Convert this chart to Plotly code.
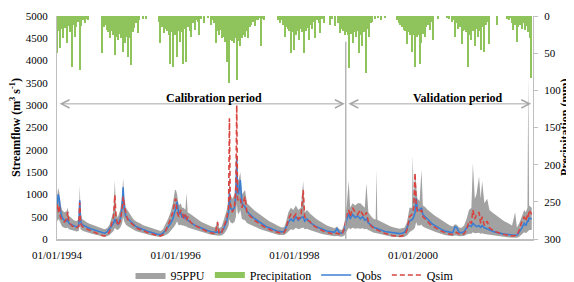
import plotly.graph_objects as go
import pandas as pd

# ---------------- streamflow data (m3/s) ----------------
dates = [
    # 1994
    "1994-01-01","1994-01-08","1994-01-15","1994-01-22","1994-02-01","1994-02-15","1994-03-01","1994-03-08",
    "1994-03-15","1994-04-01","1994-04-15","1994-05-01","1994-05-15","1994-05-21","1994-05-26","1994-06-05",
    "1994-06-20","1994-07-05","1994-07-20","1994-08-05","1994-08-20","1994-09-05","1994-09-20","1994-10-05",
    "1994-10-20","1994-11-05","1994-11-20","1994-12-05","1994-12-15","1994-12-23","1994-12-30",
    # 1995
    "1995-01-10","1995-01-25","1995-02-05","1995-02-12","1995-02-18","1995-03-01","1995-03-15","1995-04-01",
    "1995-04-15","1995-05-01","1995-05-15","1995-06-01","1995-06-15","1995-07-01","1995-07-15","1995-08-01",
    "1995-08-15","1995-09-01","1995-09-15","1995-10-01","1995-10-15","1995-11-01","1995-11-15","1995-12-01",
    "1995-12-15","1995-12-28",
    # 1996
    "1996-01-03","1996-01-10","1996-01-20","1996-02-01","1996-02-10","1996-02-20","1996-03-01","1996-03-08",
    "1996-03-15","1996-04-01","1996-04-15","1996-05-01","1996-05-15","1996-06-01","1996-06-15","1996-07-01",
    "1996-07-15","1996-08-01","1996-08-15","1996-09-01","1996-09-15","1996-09-25","1996-10-10","1996-10-25",
    "1996-11-10","1996-11-22","1996-11-27","1996-12-02","1996-12-15","1996-12-28",
    # 1997
    "1997-01-06","1997-01-11","1997-01-16","1997-01-22","1997-02-02","1997-02-12","1997-03-03","1997-03-15",
    "1997-03-30","1997-04-15","1997-04-30","1997-05-15","1997-05-30","1997-06-15","1997-06-30","1997-07-15",
    "1997-07-30","1997-08-15","1997-08-30","1997-09-15","1997-09-30","1997-10-15","1997-10-30","1997-11-10",
    "1997-11-25","1997-12-10","1997-12-25",
    # 1998
    "1998-01-10","1998-01-25","1998-02-10","1998-02-24","1998-03-05","1998-03-20","1998-04-05","1998-04-20",
    "1998-05-05","1998-05-20","1998-06-05","1998-06-20","1998-07-05","1998-07-20","1998-08-05","1998-08-20",
    "1998-09-05","1998-09-20","1998-10-05","1998-10-20","1998-11-05","1998-11-20","1998-12-01","1998-12-10",
    "1998-12-25",
    # 1999
    "1999-01-10","1999-01-25","1999-02-10","1999-02-25","1999-03-10","1999-03-20","1999-04-01","1999-04-20",
    "1999-05-05","1999-05-16","1999-05-21","1999-05-26","1999-06-10","1999-06-25","1999-07-10","1999-07-25",
    "1999-08-10","1999-08-25","1999-09-10","1999-09-25","1999-10-10","1999-10-25","1999-11-10","1999-11-25",
    "1999-12-10","1999-12-25","1999-12-30",
    # 2000
    "2000-01-05","2000-01-13","2000-01-20","2000-01-28","2000-02-10","2000-02-22","2000-03-01","2000-03-15",
    "2000-04-01","2000-04-15","2000-05-01","2000-05-15","2000-06-01","2000-06-15","2000-07-01","2000-07-15",
    "2000-08-01","2000-08-15","2000-09-01","2000-09-15","2000-09-25","2000-10-10","2000-10-25","2000-11-10",
    "2000-11-25","2000-12-10","2000-12-25",
    # 2001
    "2001-01-03","2001-01-15","2001-01-25","2001-02-10","2001-02-20","2001-03-01","2001-03-15","2001-04-01",
    "2001-04-15","2001-05-01","2001-05-15","2001-06-01","2001-06-15","2001-07-01","2001-07-15","2001-08-01",
    "2001-08-15","2001-09-01","2001-09-20","2001-10-01","2001-10-15","2001-11-01","2001-11-15","2001-11-25",
    "2001-12-05","2001-12-10","2001-12-15","2001-12-31",
]

qobs = [
    650,1000,900,650,480,420,400,450,350,320,290,270,300,870,400,320,290,260,240,220,200,180,160,140,130,160,220,300,350,450,380,
    330,450,700,1160,700,500,450,380,320,280,260,230,210,190,170,150,130,110,100,100,130,200,260,350,450,600,
    700,840,550,600,480,550,450,500,420,380,340,300,280,250,230,210,190,170,160,150,160,140,160,250,400,600,1030,700,650,700,
    1000,1815,1100,1000,1320,800,720,620,560,500,460,420,380,340,300,270,250,220,200,180,170,160,170,250,380,450,400,
    500,420,480,500,400,450,380,330,300,270,240,220,200,180,170,160,150,230,140,130,200,450,580,450,550,
    480,520,450,500,420,450,360,300,260,245,240,230,210,190,170,160,150,140,130,120,120,130,150,250,400,430,450,
    500,600,920,650,650,700,550,500,420,380,330,300,260,230,200,180,160,150,140,270,260,150,140,160,250,300,280,
    350,300,280,300,260,300,250,230,200,180,160,140,130,120,110,100,90,80,85,90,150,250,350,300,400,400,470,450,
]

qsim = [
    780,600,750,500,420,380,450,610,380,300,270,250,280,820,350,280,250,220,190,170,150,120,100,80,70,90,160,350,500,985,500,
    300,400,650,950,800,550,420,360,300,260,230,200,180,160,140,120,100,80,70,70,100,180,300,450,600,875,
    900,600,500,650,600,450,550,420,500,380,330,300,260,230,200,180,160,140,130,120,380,110,150,300,450,700,2705,800,600,700,
    1200,3000,900,850,900,700,950,580,520,460,420,380,340,300,270,240,210,190,170,150,140,130,150,220,450,550,480,
    560,450,500,1100,500,420,400,320,280,250,220,190,170,150,130,120,110,130,110,100,250,550,650,500,700,
    600,550,650,550,500,600,380,280,230,215,210,200,170,150,130,110,90,80,70,60,60,70,90,200,500,550,600,
    700,1480,800,600,600,650,500,450,380,330,290,250,220,190,160,140,120,110,100,120,150,110,100,120,200,400,350,
    650,450,550,600,350,500,300,400,250,200,170,150,130,110,100,90,80,70,75,80,200,400,500,400,550,500,650,550,
]

ppu_low = [
    380,450,420,350,280,250,240,260,220,200,180,170,180,350,220,190,170,150,140,120,100,90,70,60,50,60,90,150,180,250,220,
    200,250,350,500,400,320,280,240,200,180,160,140,120,110,100,85,70,60,50,50,60,90,120,180,230,300,
    350,400,300,320,300,300,280,280,260,240,220,200,180,160,140,130,110,100,90,80,85,75,80,120,200,300,450,380,350,380,
    500,800,600,550,650,450,420,360,330,300,280,250,230,210,190,170,150,130,110,100,90,85,90,120,180,220,200,
    250,220,240,260,220,230,200,180,160,140,120,110,100,90,80,70,60,70,60,50,80,200,250,220,250,
    230,240,230,240,220,230,200,160,140,135,130,120,110,100,80,70,60,50,45,40,40,40,50,80,150,180,200,
    220,260,380,300,300,320,280,250,220,200,180,160,140,120,100,90,80,70,60,80,80,60,60,70,100,120,120,
    150,130,130,140,120,130,110,100,90,80,70,60,55,50,45,40,35,30,30,30,50,100,150,130,180,180,200,200,
]

ppu_high = [
    900,1150,1050,800,650,600,620,700,520,460,420,400,450,1200,600,450,400,370,340,320,300,280,260,240,220,240,320,500,650,1320,600,
    480,650,950,1370,950,700,620,520,450,400,380,340,310,290,270,250,230,210,190,180,220,330,450,600,800,1100,
    1100,1000,750,800,700,700,650,1030,600,560,520,480,440,400,370,340,310,290,270,260,420,240,280,450,650,900,1500,1000,900,1000,
    1400,2000,1400,1300,1500,1000,1100,800,740,680,640,600,560,520,470,430,400,370,340,300,280,260,270,380,600,700,650,
    750,650,700,1300,600,650,580,520,480,440,400,360,330,300,280,260,240,280,220,200,350,800,1300,700,800,
    750,800,800,750,700,1250,600,500,450,440,1550,430,400,370,340,310,290,270,250,240,230,240,260,380,700,700,1880,
    900,1500,1200,900,850,1550,750,720,650,600,560,520,480,440,400,370,330,300,280,330,320,260,250,300,450,650,700,
    1700,900,1000,1400,900,1300,800,900,650,600,560,520,480,440,400,370,340,300,600,260,350,500,650,600,700,3700,750,700,
]

# ---------------- precipitation (mm), 10-day bars per wet period ----------------
rain_a_start = "1994-01-01"
rain_a = [50,20,43,18,30,16,36,14,22,68,12,28,15,8,73,14,6,10,4,5]
rain_b_start = "1994-10-05"
rain_b = [50,15,12,19,22,30,20,25,52,28,32,24,30,48,36,28,55,30,66,22,16,10,23,6,0,4,0,4]
rain_c_start = "1995-09-20"
rain_c = [8,36,15,23,18,20,25,64,22,68,25,55,20,35,22,64,18,62,15,20,
          28,10,19,6,8,26,4,0,10,0,3,0,12,5,10,36,20,25,19,30,
          28,35,62,90,32,34,36,30,86,33,41,30,25,28,20,30,15,12,8,14,
          5,6,3,41,4,5]
rain_d_start = "1997-09-23"
rain_d = [5,10,6,12,28,15,18,20,50,22,46,25,20,32,18,22,50,20,16,32,12,18,8,30,6,10,23,4,10]
rain_e_start = "1998-08-08"
rain_e = [12,4,0,14,0,10,23,18,20,25,22,26,70,24,36,22,28,20,50,26,41,22,77,18,28,10,8]
rain_f_start = "1999-05-12"
rain_f = [4,0,3,0,5,0,2]
rain_g_start = "1999-09-25"
rain_g = [6,10,12,15,19,20,37,22,25,48,26,68,28,25,64,36,24,28,15,12,19,8,32,0,0,4]
rain_h_start = "2000-07-28"
rain_h = [3,4,0,8,5,28,10,18,15,37,20,19,22,68,25,32,20,41,18,28,20,46,15,48,12,8,37]
rain_i_start = "2001-08-01"
rain_i = [4,6,3,10,19,12,35,15,12,17,10,19,14,22,30,83]
rain_extra_dates = ["2001-05-31"]
rain_extra = [12]

xtick_vals = ["1994-01-01", "1996-01-01", "1998-01-01", "2000-01-01"]
xtick_text = ["01/01/1994", "01/01/1996", "01/01/1998", "01/01/2000"]

# ---------------- build ----------------
rain_x, rain_y = [], []
for start, vals in [(rain_a_start, rain_a), (rain_b_start, rain_b), (rain_c_start, rain_c),
                    (rain_d_start, rain_d), (rain_e_start, rain_e), (rain_f_start, rain_f),
                    (rain_g_start, rain_g), (rain_h_start, rain_h), (rain_i_start, rain_i)]:
    rain_x += list(pd.date_range(start, periods=len(vals), freq="10D"))
    rain_y += vals
rain_x += list(pd.to_datetime(rain_extra_dates))
rain_y += rain_extra

SERIF = "Liberation Serif"
GRAY_AX = "#bfbfbf"
PPU_COL = "#a2a2a2"
RAIN_COL = "#8fc45c"
OBS_COL = "#3b7fd4"
SIM_COL = "#d9443f"

fig = go.Figure()
fig.add_trace(go.Scatter(x=dates, y=ppu_low, mode="lines", line=dict(width=0),
                         showlegend=False, hoverinfo="skip"))
fig.add_trace(go.Scatter(x=dates, y=ppu_high, mode="lines", line=dict(width=0),
                         fill="tonexty", fillcolor=PPU_COL, name="95PPU"))
fig.add_trace(go.Bar(x=rain_x, y=rain_y, yaxis="y2", width=7 * 86400000,
                     marker=dict(color=RAIN_COL, line=dict(width=0)), showlegend=False))
fig.add_trace(go.Scatter(x=[None], y=[None], mode="lines", name="Precipitation",
                         line=dict(color=RAIN_COL, width=6)))
fig.add_trace(go.Scatter(x=dates, y=qobs, mode="lines", name="Qobs",
                         line=dict(color=OBS_COL, width=1.6)))
fig.add_trace(go.Scatter(x=dates, y=qsim, mode="lines", name="Qsim",
                         line=dict(color=SIM_COL, width=1.6, dash="5px,3px")))

# The page shows the figure offset by the browser's 8px body margin,
# so margins are set so that the plot area lands at page x 57-533, y 16-239.
fig.update_layout(
    width=574, height=282,
    margin=dict(l=49, r=49, t=8, b=51, autoexpand=False),
    paper_bgcolor="white", plot_bgcolor="white",
    font=dict(family=SERIF, size=11, color="black"),
    bargap=0,
    xaxis=dict(type="date", range=["1994-01-01", "2002-01-08"],
               tickvals=xtick_vals, ticktext=xtick_text,
               showline=True, linecolor=GRAY_AX, linewidth=1.5, showgrid=False, zeroline=False,
               ticks="", ticklabelstandoff=5, tickfont=dict(size=11)),
    yaxis=dict(range=[0, 5000], dtick=500, tick0=0, showline=True, linecolor=GRAY_AX, linewidth=1.2,
               showgrid=False, zeroline=False, ticks="", ticklabelstandoff=6,
               title=dict(text="<b>Streamflow (m<sup>3</sup> s<sup>-1</sup>)</b>",
                          font=dict(size=12), standoff=5)),
    yaxis2=dict(overlaying="y", side="right", range=[300, 0], dtick=50, tick0=0,
                showline=True, linecolor=GRAY_AX, linewidth=1.2, showgrid=False, zeroline=False,
                ticks="outside", ticklen=4, tickcolor=GRAY_AX, ticklabelstandoff=4),
    legend=dict(orientation="h", traceorder="normal", x=0.5, xanchor="center",
                yref="container", y=0.053, yanchor="middle",
                font=dict(size=12), bgcolor="rgba(0,0,0,0)", itemwidth=30),
    shapes=[dict(type="line", xref="x", yref="y", x0="1998-11-13", x1="1998-11-13",
                 y0=0, y1=4420, line=dict(color="#a6a6a6", width=1.2))],
    annotations=[
        dict(x="1998-11-07", y=3030, ax="1994-01-08", ay=3030, xref="x", yref="y",
             axref="x", ayref="y", text="", showarrow=True, arrowhead=5, startarrowhead=5,
             arrowside="end+start", arrowsize=1.6, startarrowsize=1.6, arrowwidth=1,
             arrowcolor="#a6a6a6"),
        dict(x="2001-12-28", y=3030, ax="1998-11-20", ay=3030, xref="x", yref="y",
             axref="x", ayref="y", text="", showarrow=True, arrowhead=5, startarrowhead=5,
             arrowside="end+start", arrowsize=1.6, startarrowsize=1.6, arrowwidth=1,
             arrowcolor="#a6a6a6"),
        dict(x="1996-08-23", y=3170, xref="x", yref="y", text="<b>Calibration period</b>",
             showarrow=False, font=dict(size=12)),
        dict(x="2000-10-03", y=3170, xref="x", yref="y", text="<b>Validation period</b>",
             showarrow=False, font=dict(size=12)),
        dict(x=1.066, y=0.5, xref="paper", yref="paper", xanchor="center", yanchor="middle",
             text="<b>Precipitation (mm)</b>", textangle=-90, showarrow=False,
             font=dict(size=12)),
    ],
)

fig.write_html("out.html")
